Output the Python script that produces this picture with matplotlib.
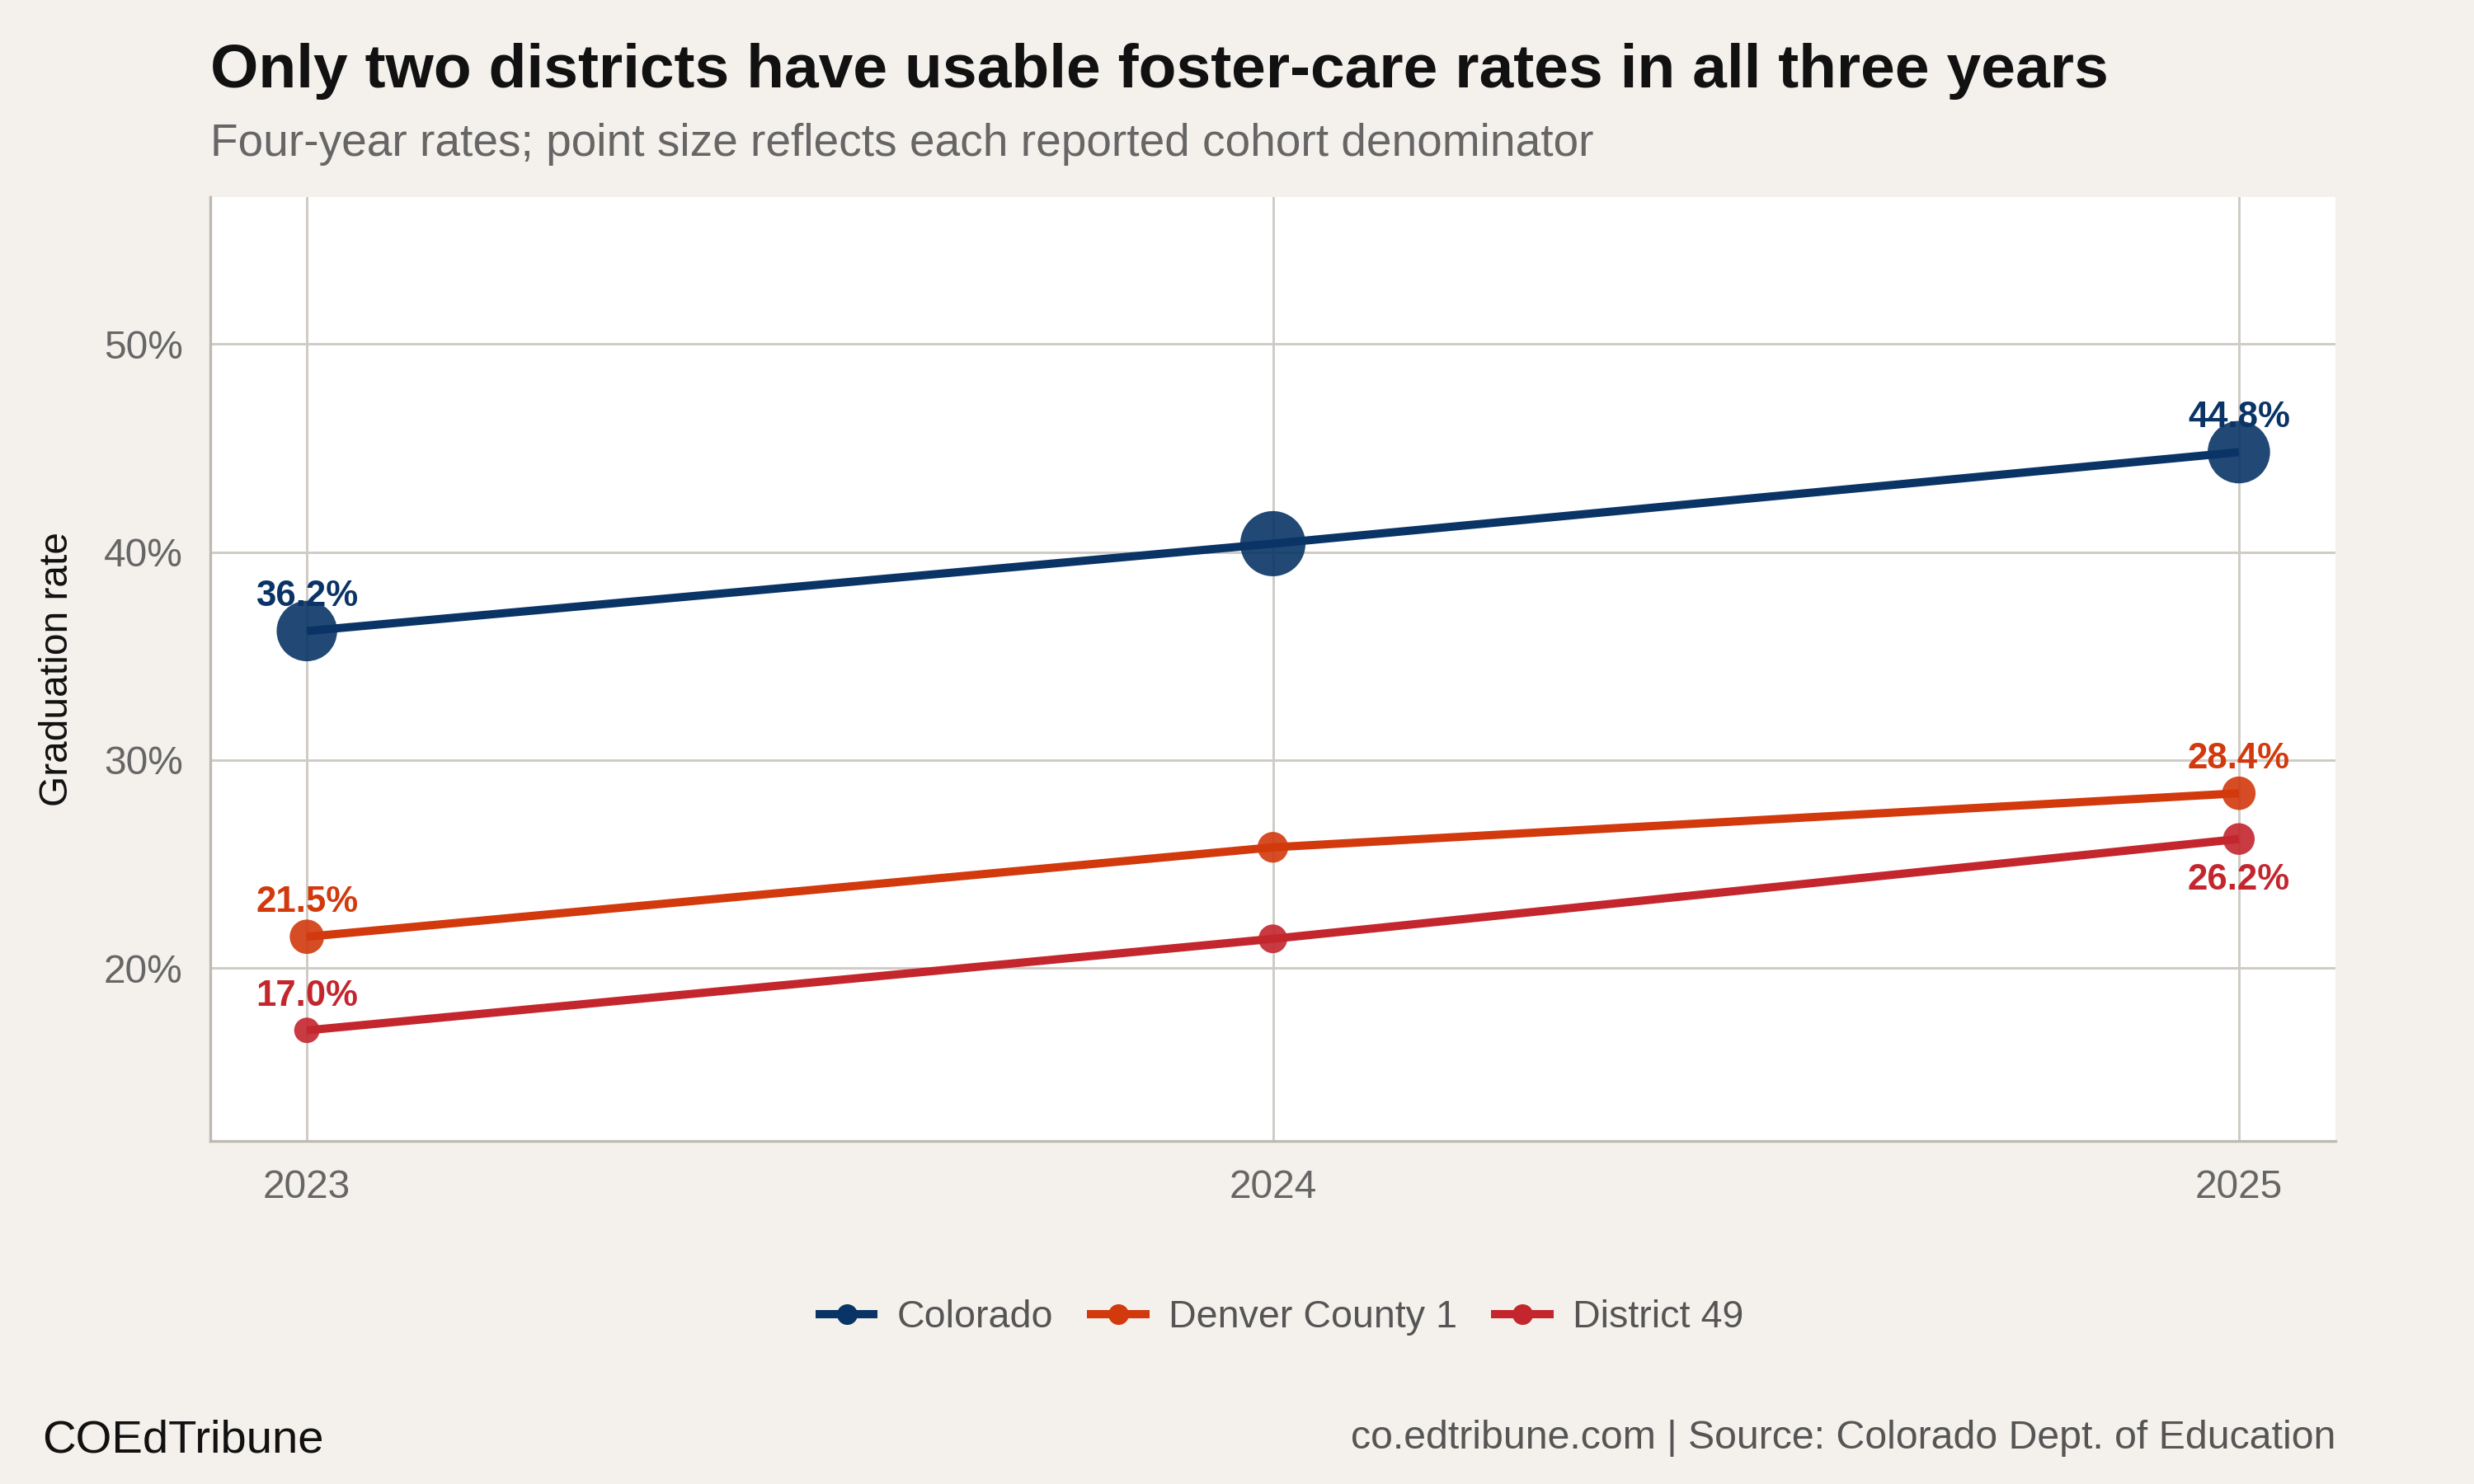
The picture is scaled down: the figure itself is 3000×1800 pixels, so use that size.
import matplotlib
matplotlib.use("Agg")
import matplotlib.pyplot as plt
from matplotlib.lines import Line2D

plt.rcParams['font.family'] = ['Liberation Sans', 'DejaVu Sans']

years = [2023, 2024, 2025]
series = ["Colorado", "Denver County 1", "District 49"]
rates = {
    "Colorado": [36.2, 40.4, 44.8],
    "Denver County 1": [21.5, 25.8, 28.4],
    "District 49": [17.0, 21.4, 26.2],
}
cohorts = {
    "Colorado": [620, 720, 660],
    "Denver County 1": [200, 160, 190],
    "District 49": [110, 140, 170],
}
colors = {"Colorado": "#0A3466", "Denver County 1": "#D2390D", "District 49": "#C4262E"}
label_pos = {
    "Colorado": (10, 10),
    "Denver County 1": (10, 10),
    "District 49": (10, -12),
}

bg = "#F4F1EC"
fig = plt.figure(figsize=(10, 6), dpi=300, facecolor=bg)
ax = fig.add_axes([0.085, 0.231, 0.859, 0.636])
ax.set_facecolor("white")

for s in series:
    c = colors[s]
    ax.plot(years, rates[s], color=c, lw=2.4, zorder=3, solid_capstyle='butt')
    ax.scatter(years, rates[s], s=[v * 0.5 for v in cohorts[s]], color=c, alpha=0.9,
               zorder=4, linewidths=0)
    for i, dy in zip([0, 2], label_pos[s]):
        ax.annotate(f"{rates[s][i]:.1f}%", (years[i], rates[s][i]), xytext=(0, dy),
                    textcoords="offset points", ha="center", va="center",
                    fontsize=10.5, fontweight="bold", color=c, zorder=5)

ax.set_xlim(2022.9, 2025.1)
ax.set_ylim(11.67, 57.05)
ax.set_xticks(years)
ax.set_xticklabels([str(y) for y in years])
ax.set_yticks([20, 30, 40, 50])
ax.set_yticklabels(["20%", "30%", "40%", "50%"])
ax.grid(True, color="#CFCBC4", lw=0.7)
ax.set_axisbelow(True)
for sp in ["top", "right"]:
    ax.spines[sp].set_visible(False)
for sp in ["left", "bottom"]:
    ax.spines[sp].set_color("#BDB9B2")
    ax.spines[sp].set_linewidth(0.8)
ax.tick_params(length=0, labelsize=11.5, colors="#666666", pad=8)
ax.set_ylabel("Graduation rate", fontsize=11.5, color="#111111", labelpad=8)

fig.text(0.085, 0.952, "Only two districts have usable foster-care rates in all three years",
         fontsize=18, fontweight="bold", color="#111111", va="center")
fig.text(0.085, 0.903, "Four-year rates; point size reflects each reported cohort denominator",
         fontsize=13.2, color="#666666", va="center")

handles = [Line2D([0], [0], color=colors[s], lw=2.4, marker='o', markersize=5) for s in series]
fig.legend(handles, series, loc="center", bbox_to_anchor=(0.518, 0.112), ncol=3,
           frameon=False, fontsize=11.2, labelcolor="#555555", handlelength=1.4,
           columnspacing=1.0, handletextpad=0.6)

fig.text(0.017, 0.029, "COEdTribune", fontsize=13.5, color="#111111", va="center")
fig.text(0.944, 0.031, "co.edtribune.com | Source: Colorado Dept. of Education",
         fontsize=11.6, color="#555555", va="center", ha="right")

fig.savefig("out.png", dpi=300, facecolor=bg)
